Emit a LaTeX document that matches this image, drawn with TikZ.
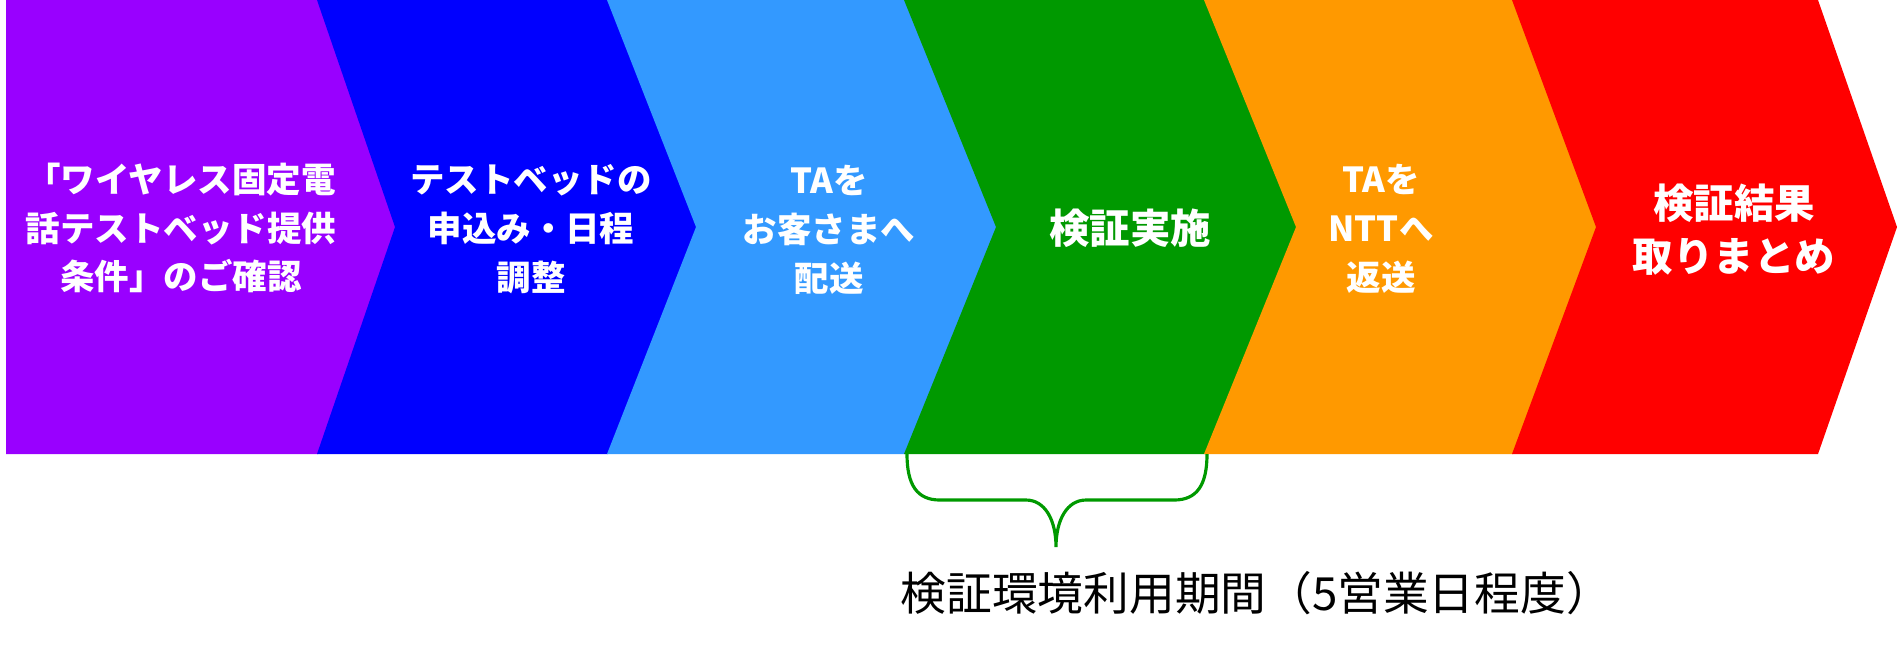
\documentclass[tikz,border=0pt]{standalone}
\usepackage{fontspec}
\newfontfamily\jpfont{Noto Sans CJK JP}
\usetikzlibrary{positioning}
\definecolor{stepviolet}{RGB}{153,0,255}
\definecolor{stepblue}{RGB}{0,0,255}
\definecolor{stepsky}{RGB}{51,153,255}
\definecolor{stepgreen}{RGB}{0,153,0}
\definecolor{steporange}{RGB}{255,153,0}
\definecolor{stepred}{RGB}{255,0,0}
\tikzset{x=0.01cm, y=-0.01cm, % one unit is one pixel, y going down
steptext/.style={ % white bold text on the chevrons
text=white, align=center, inner sep=0pt,
font=\jpfont\bfseries\fontsize{9.8pt}{13.9pt}\selectfont},
bigtext/.style={ % the roomier chevrons
steptext,
font=\jpfont\bfseries\fontsize{11.5pt}{15.1pt}\selectfont},
periodlabel/.style={
text=black, inner sep=0pt,
font=\jpfont\fontsize{13pt}{16pt}\selectfont},
bracket/.style={ % curly brace under the green step
draw=stepgreen, line width=0.9pt}}

\begin{document}
\begin{tikzpicture}
\useasboundingbox (0,0) rectangle (1897,647);
% chevrons: left / notch / right / tip / colour
\foreach \l/\n/\r/\t/\c in {7/7/318/396/stepviolet,
  318/396/608/697/stepblue, 608/697/905/997/stepsky,
  905/997/1205/1297/stepgreen, 1205/1297/1513/1597/steporange,
  1513/1597/1818/1897/stepred}
  \fill[fill=\c] (\l-1,0) -- (\r,0) -- (\t,227) -- (\r,454) -- (\l-1,454) -- (\n-1,227) -- cycle;

\node[steptext] (confirm) at (181,228) {「ワイヤレス固定電\\話テストベッド提供\\条件」のご確認};
\node[steptext] (apply) at (531,229) {テストベッドの\\申込み・日程\\調整};
\node[steptext] (ship) at (829,230) {TAを\\お客さまへ\\配送};
\node[bigtext] (verify) at (1130,228) {検証実施};
\node[steptext] (return) at (1381,229) {TAを\\NTTへ\\返送};
\node[bigtext] (summary) at (1734,230) {検証結果\\取りまとめ};

% brace
\coordinate (bw) at (907,454);
\coordinate (be) at (1207,454);
\coordinate (bt) at (1056,547);
\draw[bracket] (bw) .. controls (907,485) and (917,500) .. (940,500) -- (1026,500)
  .. controls (1045,500) and (1056,520) .. (bt)
  .. controls (1056,520) and (1067,500) .. (1086,500) -- (1174,500)
  .. controls (1197,500) and (1207,485) .. (be);
\node[periodlabel, anchor=west] (period) at (900,593) {検証環境利用期間（5営業日程度）};
\end{tikzpicture}
\end{document}
